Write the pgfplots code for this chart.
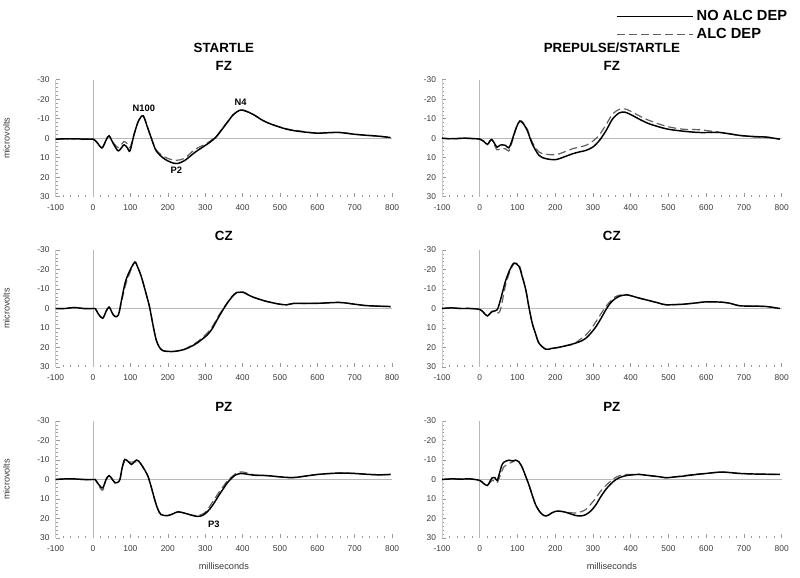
\documentclass[border=0pt]{standalone}
\usepackage{fontspec}
\setmainfont{Liberation Sans}
\usepackage{pgfplots}
\pgfplotsset{compat=1.18}

\definecolor{tickgray}{HTML}{9A9A9A}
\definecolor{labgray}{HTML}{3A3A3A}

\pgfplotsset{
  erp/.style={
    scale only axis, width=253pt, height=87.75pt,
    anchor=south west,
    xmin=-100, xmax=800, ymin=-30, ymax=30,
    y dir=reverse,
    xtick={-100,0,...,800}, ytick={-30,-20,...,30},
    minor x tick num=4, minor y tick num=4,
    axis lines*=left,
    x axis line style={draw=none},
    y axis line style={draw=tickgray!50},
    major tick length=3pt, minor tick length=1.6pt,
    every tick/.style={draw=tickgray, line width=0.4pt},
    tick label style={font=\fontsize{6.3}{7}\selectfont, text=labgray},
    xticklabel style={yshift=-2.5pt},
    yticklabel style={xshift=-1pt},
    /pgf/number format/assume math mode=true,
    clip=false,
  },
  leftp/.style={erp, width=252.4pt},
  rightp/.style={erp, width=254.8pt},
  solidc/.style={black, line width=1.1pt, smooth, tension=0.5},
  dashc/.style={gray!75!black, line width=0.9pt, dash pattern=on 6pt off 3pt, smooth, tension=0.5},
}

\newcommand{\zerolines}{%
  \draw[tickgray!70, line width=0.5pt] (axis cs:0,-30) -- (axis cs:0,30);
  \draw[tickgray!70, line width=0.5pt] (axis cs:-100,0) -- (axis cs:800,0);
}
\newcommand{\ttl}[1]{\node[font=\bfseries\fontsize{10}{12}\selectfont] at (axis description cs:0.5,1.12) {#1};}
\newcommand{\ann}{\bfseries\fontsize{7}{8}\selectfont}

\begin{document}
\begin{tikzpicture}
\useasboundingbox (0,0) rectangle (600pt,-433.5pt);

% ---------- STARTLE FZ
\begin{axis}[leftp, at={(41.7pt,-147.5pt)}]
\zerolines
\addplot[dashc] coordinates {(-100,0.5)(-60,0.3)(-20,0.5)(0,0.5)(10,2)(24,5)(35,1)(43,-1.2)(55,2.5)(68,4.8)(83,1.7)(92,3)(99,4.8)(110,-2)(122,-9)(134,-11.5)(145,-6)(156,0)(169,6)(190,9.5)(210,11)(226,11.3)(245,10.3)(271,6)(290,4)(306,2.5)(320,0.5)(332,-1.5)(345,-4.8)(359,-8.3)(375,-12)(394,-14.4)(410,-13.8)(430,-12)(455,-9)(482,-6.8)(518,-4.8)(550,-3.8)(597,-2.6)(630,-2.9)(659,-3.1)(700,-2)(730,-1.5)(765,-1)(796,-0.3)};
\addplot[solidc] coordinates {(-100,0.5)(-60,0.3)(-20,0.5)(0,0.5)(10,2)(24,5)(35,1)(43,-1.2)(55,3)(68,6.5)(83,3.4)(92,5)(99,6.5)(110,-2)(122,-9)(134,-11.5)(145,-6)(156,0)(169,6.5)(190,10.5)(210,12.5)(226,13)(245,11.5)(271,7.5)(290,5)(306,3)(320,1)(332,-1.2)(345,-4.5)(359,-8)(375,-12)(394,-14.4)(410,-13.8)(430,-12)(455,-9)(482,-6.8)(518,-4.6)(550,-3.5)(597,-2.6)(630,-2.8)(659,-2.9)(700,-2)(730,-1.5)(765,-1)(796,-0.3)};
\ttl{FZ}
\node[font=\bfseries\fontsize{10}{12}\selectfont] at (axis description cs:0.5,1.274) {STARTLE};
\node[rotate=90, font=\fontsize{6.8}{8}\selectfont, text=labgray] at (axis description cs:-0.146,0.5) {microvolts};
\node[font=\ann] at (axis cs:136,-15.1) {N100};
\node[font=\ann] at (axis cs:395,-18.2) {N4};
\node[font=\ann] at (axis cs:223,16.7) {P2};
\end{axis}

% ---------- PREPULSE/STARTLE FZ
\begin{axis}[rightp, at={(331.5pt,-147.5pt)},
  legend style={at={(axis description cs:0.513,1.615)}, anchor=north west, draw=none, fill=none,
    font=\bfseries\fontsize{11}{12}\selectfont, inner sep=0pt, row sep=0pt, cells={anchor=west}},
  legend image code/.code={\draw[#1] (0pt,0pt) -- (57pt,0pt);},
  reverse legend]
\zerolines
\addplot[dashc] coordinates {(-100,0)(-80,0.3)(-60,0.2)(-40,0)(-20,0.2)(0,0.5)(10,1.5)(20,3.2)(31,0.7)(40,4)(46,6)(55,5.5)(68,5.4)(77,6.6)(84,3)(91,-1.5)(98,-6)(106,-9)(115,-8)(126,-4.5)(139,2)(157,7.1)(175,8.2)(201,8.5)(225,7)(246,5.4)(265,4.5)(281,3.7)(300,1.5)(317,-1.7)(335,-7)(352,-12.4)(370,-14.8)(385,-15)(405,-13.3)(425,-11.2)(450,-9)(494,-6.1)(538,-4.6)(583,-4.3)(636,-3)(689,-1.4)(730,-0.6)(760,-0.6)(795,0.5)};
\addlegendentry{ALC DEP}
\addplot[solidc] coordinates {(-100,0)(-80,0.3)(-60,0.2)(-40,0)(-20,0.2)(0,0.5)(10,1.5)(20,3.2)(31,0.7)(40,3)(46,4.6)(55,3.5)(68,3.7)(77,5)(84,2)(91,-2.2)(98,-6)(106,-8.7)(115,-7.5)(126,-3.9)(139,2.9)(157,8.8)(175,10.5)(201,11)(225,9.5)(246,8)(265,7)(281,6.3)(300,4.5)(317,1.2)(335,-4)(352,-9.9)(370,-13)(385,-13.3)(405,-11.6)(425,-9.5)(450,-7.3)(494,-4.8)(538,-3.6)(583,-2.9)(636,-2.9)(689,-1.4)(730,-0.8)(760,-0.5)(795,0.5)};
\addlegendentry{NO ALC DEP}
\ttl{FZ}
\node[font=\bfseries\fontsize{10}{12}\selectfont] at (axis description cs:0.5,1.274) {PREPULSE/STARTLE};
\end{axis}

% ---------- STARTLE CZ
\begin{axis}[leftp, at={(41.7pt,-275.25pt)}]
\zerolines
\addplot[dashc] coordinates {(-100,0)(-75,0)(-50,-0.5)(-25,0)(0,0)(6,0)(15,3)(26,5)(35,1.5)(43,-0.7)(52,2.5)(59,4.1)(68,3.3)(77,-4)(87,-12)(100,-19)(112,-24)(120,-21)(129,-16.5)(140,-9)(151,-1)(160,8)(169,16.1)(178,20)(187,21.6)(200,22)(218,22)(244,21)(262,19)(280,17)(306,12.5)(320,9)(332,5)(345,1)(359,-3)(372,-6.3)(385,-8.4)(403,-8.4)(415,-7)(430,-5.7)(465,-3.6)(500,-2.2)(518,-1.9)(536,-2.6)(570,-2.6)(606,-2.7)(659,-3.1)(700,-2.2)(730,-1.5)(765,-1.2)(796,-1)};
\addplot[solidc] coordinates {(-100,0)(-75,0)(-50,-0.5)(-25,0)(0,0)(6,0)(15,3)(26,5)(35,1.5)(43,-0.7)(52,2.5)(59,4.1)(68,3.3)(77,-5)(87,-13.9)(100,-20)(112,-23.7)(120,-21)(129,-16.5)(140,-9)(151,-1)(160,8)(169,16.1)(178,20)(187,21.6)(200,22)(218,22)(244,21)(262,19.5)(280,17.5)(306,13.5)(320,10)(332,5.8)(345,1.5)(359,-2.7)(372,-6)(385,-8.2)(403,-8.2)(415,-7)(430,-5.7)(465,-3.6)(500,-2.2)(518,-1.9)(536,-2.6)(570,-2.6)(606,-2.7)(659,-3.1)(700,-2.2)(730,-1.5)(765,-1.2)(796,-1)};
\ttl{CZ}
\node[rotate=90, font=\fontsize{6.8}{8}\selectfont, text=labgray] at (axis description cs:-0.146,0.5) {microvolts};
\end{axis}

% ---------- PREPULSE/STARTLE CZ
\begin{axis}[rightp, at={(331.5pt,-275.25pt)}]
\zerolines
\addplot[dashc] coordinates {(-100,0)(-75,-0.3)(-50,0)(-25,0)(0,0.5)(10,2)(20,3.8)(33,1.5)(46,2.4)(55,0.5)(68,-11.7)(80,-19)(91,-23)(104,-22.5)(113,-16.5)(122,-9.6)(130,-1)(139,7.5)(148,13)(157,17.8)(175,20.9)(190,20.5)(210,19.9)(230,19)(246,18.5)(265,16)(281,13.6)(295,10.5)(308,6.7)(320,3)(334,-1)(345,-3.5)(357,-5.8)(370,-6.8)(388,-7.2)(405,-6.3)(423,-5.3)(450,-4)(476,-2.7)(494,-1.9)(538,-2.2)(570,-2.8)(600,-3.4)(636,-3.3)(660,-2.8)(689,-1.4)(730,-1.2)(760,-1)(795,0)};
\addplot[solidc] coordinates {(-100,0)(-75,-0.3)(-50,0)(-25,0)(0,0.5)(10,2)(20,3.8)(33,1.5)(46,0.7)(55,-4.5)(68,-13.9)(80,-20)(91,-23.3)(104,-21.6)(113,-16)(122,-9.6)(130,-1)(139,7.5)(148,13)(157,17.8)(175,20.9)(190,20.5)(210,19.9)(230,19)(246,18.2)(265,17)(281,15.3)(295,12.5)(308,9.3)(320,5.5)(334,0.7)(345,-2.5)(357,-4.8)(370,-6.3)(388,-7)(405,-6.3)(423,-5.3)(450,-4)(476,-2.7)(494,-1.9)(538,-2.2)(570,-2.8)(600,-3.4)(636,-3.3)(660,-2.8)(689,-1.4)(730,-1.2)(760,-1)(795,0)};
\ttl{CZ}
\end{axis}

% ---------- STARTLE PZ
\begin{axis}[leftp, at={(41.7pt,-403.5pt)}]
\zerolines
\addplot[dashc] coordinates {(-100,0)(-75,-0.3)(-50,-0.3)(-25,0)(0,0)(6,0)(15,3)(26,5.5)(35,0)(43,-2)(52,0)(59,1.7)(66,1.5)(72,0)(78,-6)(85,-9.4)(95,-9)(103,-8.9)(110,-9)(116,-9)(122,-9)(129,-7.7)(138,-5)(147,-1.7)(156,4)(165,10.3)(173,15)(182,18)(200,18.5)(215,17.5)(227,16.6)(240,17)(253,17.7)(267,18.3)(280,18.5)(292,17.8)(302,16.5)(313,13.5)(324,10.3)(337,6.5)(350,3.1)(360,0.5)(372,-1.5)(383,-3.2)(394,-3.9)(410,-3.5)(430,-2.4)(465,-2)(509,-1.2)(536,-1)(570,-1.8)(606,-2.7)(659,-3.3)(700,-3.1)(730,-2.7)(765,-2.4)(796,-2.6)};
\addplot[solidc] coordinates {(-100,0)(-75,-0.3)(-50,-0.3)(-25,0)(0,0)(6,0)(15,2.5)(26,4.3)(35,0)(43,-2)(52,0)(59,1.7)(66,1.5)(72,0)(78,-6)(85,-10.3)(95,-9)(103,-7.7)(110,-9)(116,-10)(122,-9.5)(129,-7.7)(138,-5)(147,-1.7)(156,4)(165,10.3)(173,15)(182,18)(200,18.5)(215,17.5)(227,16.6)(240,17)(253,17.7)(267,18.5)(280,18.9)(292,18.5)(302,17.2)(313,15)(324,12)(337,8)(350,4.3)(360,1.5)(372,-0.9)(383,-2.5)(394,-3.1)(410,-2.8)(430,-2.2)(465,-2)(509,-1.2)(536,-1)(570,-1.8)(606,-2.7)(659,-3.3)(700,-3.1)(730,-2.7)(765,-2.4)(796,-2.6)};
\ttl{PZ}
\node[rotate=90, font=\fontsize{6.8}{8}\selectfont, text=labgray] at (axis description cs:-0.146,0.5) {microvolts};
\node[font=\fontsize{6.9}{8}\selectfont, text=labgray] at (axis description cs:0.5,-0.24) {milliseconds};
\node[font=\ann] at (axis cs:323,22.8) {P3};
\end{axis}

% ---------- PREPULSE/STARTLE PZ
\begin{axis}[rightp, at={(331.5pt,-403.5pt)}]
\zerolines
\addplot[dashc] coordinates {(-100,0)(-75,-0.3)(-50,-0.2)(-25,-0.3)(0,0.5)(10,2)(20,3.1)(27,1.5)(33,0.5)(40,0.8)(46,1.7)(52,-1)(58,-4)(64,-6.5)(77,-8.2)(87,-9)(95,-9.9)(104,-9)(113,-6)(121,-2)(130,2.6)(139,8)(148,12.9)(157,16)(166,18)(175,18.7)(184,18)(192,17)(201,16.3)(215,16.3)(228,16.8)(240,17)(255,17.2)(268,16.5)(281,15.4)(295,12.5)(308,9.4)(320,6)(334,3.1)(347,0.8)(361,-1.2)(375,-2.2)(388,-2.6)(405,-2.6)(423,-2.6)(450,-2)(476,-1.4)(494,-0.9)(515,-1.3)(538,-1.9)(570,-2.7)(600,-3.1)(636,-3.8)(660,-3.6)(689,-3.1)(730,-2.8)(760,-2.7)(795,-2.6)};
\addplot[solidc] coordinates {(-100,0)(-75,-0.3)(-50,-0.2)(-25,-0.3)(0,0.5)(10,2)(20,3.1)(27,1)(33,-0.9)(40,-1)(46,0.5)(52,-3)(58,-7)(64,-8.9)(77,-9.9)(87,-9.5)(95,-9.9)(104,-9)(113,-6)(121,-2)(130,2.6)(139,8)(148,12.9)(157,16)(166,18)(175,18.7)(184,18)(192,17)(201,16.3)(215,16.3)(228,16.8)(240,17.6)(255,18.5)(268,18.7)(281,18)(295,16)(308,12.9)(320,9)(334,5.1)(347,2.3)(361,0)(375,-1.3)(388,-2)(405,-2.4)(423,-2.6)(450,-2)(476,-1.4)(494,-0.9)(515,-1.3)(538,-1.7)(570,-2.5)(600,-3.1)(636,-3.8)(660,-3.6)(689,-3.1)(730,-2.8)(760,-2.7)(795,-2.6)};
\ttl{PZ}
\node[font=\fontsize{6.9}{8}\selectfont, text=labgray] at (axis description cs:0.5,-0.24) {milliseconds};
\end{axis}
\end{tikzpicture}
\end{document}
